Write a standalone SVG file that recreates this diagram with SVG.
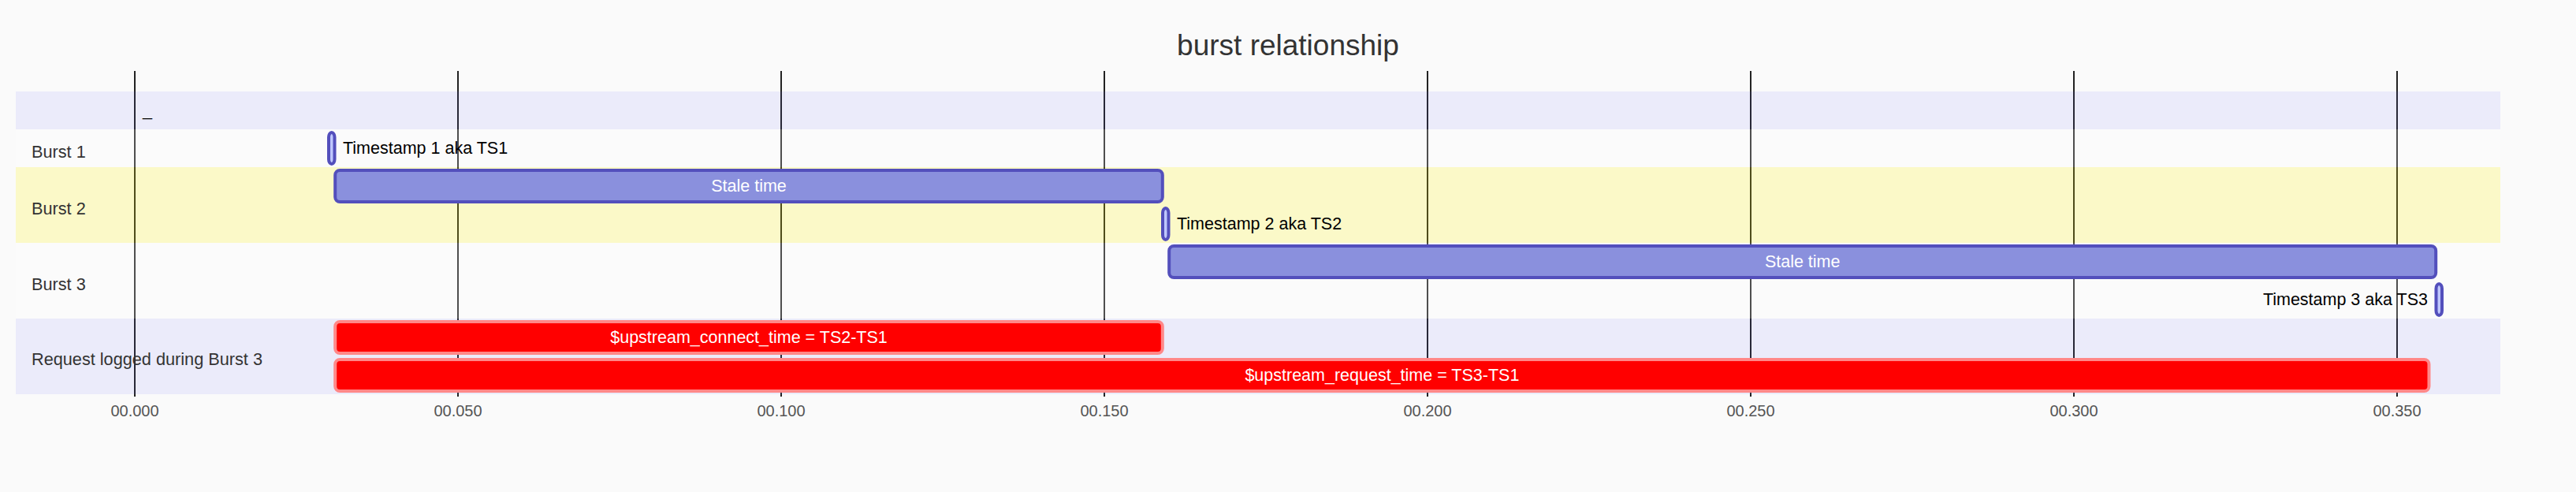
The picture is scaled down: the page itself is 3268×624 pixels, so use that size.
<svg xmlns="http://www.w3.org/2000/svg" width="3268" height="624" viewBox="0 0 3268 624">
<style>
text{font-family:"Liberation Sans",Arial,sans-serif}
.bg{fill:#fafafa}
.sec0{fill:rgba(102,102,255,0.49);opacity:0.2}
.sec1{fill:#ffffff;opacity:0.2}
.sec2{fill:#fff400;opacity:0.2}
.grid{stroke:#222;stroke-width:2}
.tick{font-size:20px;fill:#555;text-anchor:middle}
.title{font-size:37px;fill:#333;text-anchor:middle}
.secTitle{font-size:21.7px;fill:#333}
.task{fill:#8a90dd;stroke:#534fbc;stroke-width:4}
.active{fill:#bfc7ff;stroke:#534fbc;stroke-width:4}
.crit{fill:#ff0000;stroke:#ff8888;stroke-width:4}
.tIn{font-size:21.5px;fill:#fff;text-anchor:middle}
.tOut{font-size:21.5px;fill:#000}
</style>
<rect class="bg" x="0" y="0" width="3268" height="624"/>
<g id="grid">
<line class="grid" x1="171" y1="90" x2="171" y2="503"/>
<line class="grid" x1="581" y1="90" x2="581" y2="503"/>
<line class="grid" x1="991" y1="90" x2="991" y2="503"/>
<line class="grid" x1="1401" y1="90" x2="1401" y2="503"/>
<line class="grid" x1="1811" y1="90" x2="1811" y2="503"/>
<line class="grid" x1="2221" y1="90" x2="2221" y2="503"/>
<line class="grid" x1="2631" y1="90" x2="2631" y2="503"/>
<line class="grid" x1="3041" y1="90" x2="3041" y2="503"/>
<text class="tick" x="171" y="528">00.000</text>
<text class="tick" x="581" y="528">00.050</text>
<text class="tick" x="991" y="528">00.100</text>
<text class="tick" x="1401" y="528">00.150</text>
<text class="tick" x="1811" y="528">00.200</text>
<text class="tick" x="2221" y="528">00.250</text>
<text class="tick" x="2631" y="528">00.300</text>
<text class="tick" x="3041" y="528">00.350</text>
</g>
<g id="sections">
<rect class="sec0" x="20" y="116" width="3152" height="48"/>
<rect class="sec1" x="20" y="164" width="3152" height="48"/>
<rect class="sec2" x="20" y="212" width="3152" height="96"/>
<rect class="sec1" x="20" y="308" width="3152" height="96"/>
<rect class="sec0" x="20" y="404" width="3152" height="96"/>
<text class="secTitle" x="40" y="200">Burst 1</text>
<text class="secTitle" x="40" y="272">Burst 2</text>
<text class="secTitle" x="40" y="368">Burst 3</text>
<text class="secTitle" x="40" y="463">Request logged during Burst 3</text>
</g>
<text class="title" x="1634" y="70">burst relationship</text>
<g id="task-underscore">
<text class="tOut" x="181" y="147">_</text>
</g>
<g id="task-ts1">
<rect class="active" x="417" y="168" width="7.5" height="40" rx="6" ry="6"/>
<text class="tOut" x="435" y="195">Timestamp 1 aka TS1</text>
</g>
<g id="task-stale1">
<rect class="task" x="425.2" y="216" width="1049.6" height="40" rx="6" ry="6"/>
<text class="tIn" x="950" y="243">Stale time</text>
</g>
<g id="task-ts2">
<rect class="active" x="1475" y="264" width="7.5" height="40" rx="6" ry="6"/>
<text class="tOut" x="1493" y="291">Timestamp 2 aka TS2</text>
</g>
<g id="task-stale2">
<rect class="task" x="1483.2" y="312" width="1607" height="40" rx="6" ry="6"/>
<text class="tIn" x="2286.7" y="339">Stale time</text>
</g>
<g id="task-ts3">
<rect class="active" x="3090.5" y="360" width="7.5" height="40" rx="6" ry="6"/>
<text class="tOut" x="3080" y="387" text-anchor="end">Timestamp 3 aka TS3</text>
</g>
<g id="task-connect">
<rect class="crit" x="425.2" y="408" width="1049.6" height="40" rx="6" ry="6"/>
<text class="tIn" x="950" y="435">$upstream_connect_time = TS2-TS1</text>
</g>
<g id="task-request">
<rect class="crit" x="425.2" y="456" width="2656.3" height="40" rx="6" ry="6"/>
<text class="tIn" x="1753.4" y="483">$upstream_request_time = TS3-TS1</text>
</g>
<g id="connectors"/>
</svg>
